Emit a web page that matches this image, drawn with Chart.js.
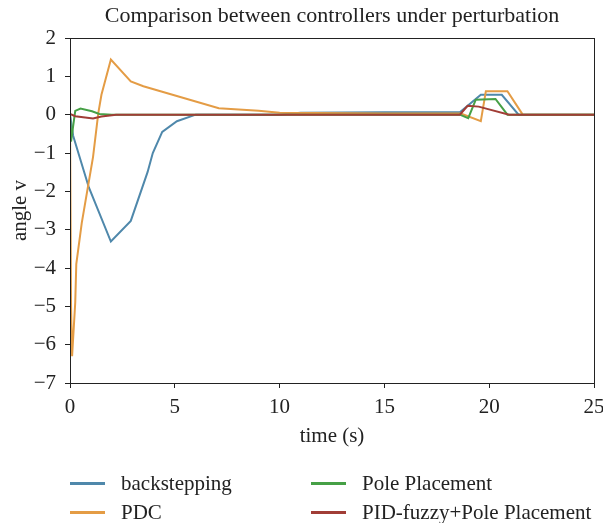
<!DOCTYPE html>
<html>
<head>
<meta charset="utf-8">
<script src="https://cdn.jsdelivr.net/npm/chart.js@4.4.0/dist/chart.umd.min.js"></script>
<style>
  body { margin: 0; background: #fff; }
  #wrap { position: relative; width: 603px; height: 523px; }
  #legend { position: absolute; left: 0; top: 0; width: 603px; height: 523px; pointer-events: none;
            font-family: "Liberation Serif", serif; font-size: 21px; color: #222; }
  .item { position: absolute; height: 24px; line-height: 24px; white-space: nowrap; }
  .swatch { position: absolute; top: 11px; height: 3px; width: 35px; }
  .txt { position: absolute; left: 51px; top: 0; }
</style>
</head>
<body>
<div id="wrap">
  <canvas id="chart" width="603" height="523"></canvas>
  <div id="legend"></div>
</div>
<script>
// tick labels
const xTicks = [0, 5, 10, 15, 20, 25];
const yTicks = [2, 1, 0, -1, -2, -3, -4, -5, -6, -7];

// backstepping
const backT = [0, 0.15, 0.9, 1.95, 2.9, 3.7, 3.95, 4.4, 5.1, 6.0, 10, 11, 15, 18.6, 19.6, 20.6, 21.4, 25];
const backV = [0, -0.55, -1.9, -3.31, -2.77, -1.5, -1.0, -0.45, -0.17, 0, 0, 0.05, 0.06, 0.06, 0.52, 0.52, 0, 0];

// PDC
const pdcT = [0, 0.05, 0.1, 0.25, 0.3, 0.56, 1.1, 1.35, 1.5, 1.95, 2.9, 3.5, 7.1, 9.0, 10, 15, 18.65, 19.6, 19.84, 20.87, 21.6, 25];
const pdcV = [0, -5.0, -6.3, -4.9, -3.9, -2.83, -1.1, 0.04, 0.52, 1.44, 0.87, 0.74, 0.17, 0.1, 0.05, 0.03, 0.03, -0.17, 0.61, 0.61, 0, 0];

// Pole Placement
const poleT = [0, 0.05, 0.15, 0.25, 0.5, 1.05, 1.4, 2, 18.6, 19.0, 19.36, 20.3, 20.87, 25];
const poleV = [0, -0.7, -0.3, 0.1, 0.16, 0.09, 0.02, 0, 0, -0.09, 0.39, 0.41, 0, 0];

// PID-fuzzy+Pole Placement
const pidT = [0, 0.25, 1.1, 1.5, 2.2, 18.6, 18.97, 19.5, 20.95, 25];
const pidV = [0.02, -0.04, -0.1, -0.05, 0, 0, 0.23, 0.21, 0, 0];

const names = ['backstepping', 'PDC', 'Pole Placement', 'PID-fuzzy+Pole Placement'];
const colors = ['#4f88ab', '#e49c45', '#46a046', '#a13d36'];
const titleText = 'Comparison between controllers under perturbation';

const pts = (t, v) => t.map((x, i) => ({ x: x, y: v[i] }));
const series = [pts(backT, backV), pts(pdcT, pdcV), pts(poleT, poleV), pts(pidT, pidV)];

const serif = '"Liberation Serif", serif';

// frame round the plot + title centred on the plot area
const boxPlugin = {
    id: 'box',
    afterDraw(chart) {
        const a = chart.chartArea;
        const ctx = chart.ctx;
        ctx.save();
        ctx.strokeStyle = '#222';
        ctx.lineWidth = 1;
        ctx.strokeRect(a.left + 0.5, a.top + 0.5, a.right - a.left, a.bottom - a.top);
        ctx.fillStyle = '#222';
        ctx.font = '22px ' + serif;
        ctx.textAlign = 'center';
        ctx.textBaseline = 'middle';
        ctx.fillText(titleText, (a.left + a.right) / 2, 16);
        ctx.restore();
    }
};

const ctx = document.getElementById('chart').getContext('2d');
const chart = new Chart(ctx, {
    type: 'line',
    data: {
        datasets: series.map((d, i) => ({
            label: names[i],
            data: d,
            borderColor: colors[i],
            backgroundColor: colors[i],
            borderWidth: 2,
            pointRadius: 0,
            tension: 0,
            fill: false,
            order: 3 - i   // matplotlib order: last series on top
        }))
    },
    options: {
        responsive: false,
        animation: false,
        layout: { padding: { left: 0, right: 9, top: 38, bottom: 70 } },
        plugins: {
            legend: { display: false },
            tooltip: { enabled: false },
            title: { display: false }
        },
        scales: {
            x: {
                type: 'linear',
                min: 0,
                max: 25,
                afterBuildTicks: s => { s.ticks = xTicks.map(v => ({ value: v })); },
                afterFit: s => { s.height = 70; s.paddingLeft = 0; s.paddingRight = 0; },
                ticks: { color: '#222', font: { family: serif, size: 21 }, padding: 7, maxRotation: 0 },
                grid: { drawOnChartArea: false, drawTicks: true, tickLength: 5, color: '#222' },
                border: { color: '#222' },
                title: {
                    display: true, text: 'time (s)', color: '#222',
                    font: { family: serif, size: 21 }, padding: { top: 0, bottom: 4 }
                }
            },
            y: {
                type: 'linear',
                min: -7,
                max: 2,
                afterBuildTicks: s => { s.ticks = yTicks.map(v => ({ value: v })); },
                afterFit: s => { s.width = 70; s.paddingTop = 0; s.paddingBottom = 0; },
                ticks: {
                    color: '#222', font: { family: serif, size: 21 }, padding: 9,
                    callback: v => String(v).replace('-', '\u2212')
                },
                grid: { drawOnChartArea: false, drawTicks: true, tickLength: 5, color: '#222' },
                border: { color: '#222' },
                title: {
                    display: true, text: 'angle v', color: '#222',
                    font: { family: serif, size: 21 }, padding: { top: 8, bottom: 0 }
                }
            }
        }
    },
    plugins: [boxPlugin]
});

// legend in two columns under the plot
const legendPos = [[70, 471], [70, 500], [311, 471], [311, 500]];
const legend = document.getElementById('legend');
names.forEach((n, i) => {
    const item = document.createElement('div');
    item.className = 'item';
    item.style.left = legendPos[i][0] + 'px';
    item.style.top = legendPos[i][1] + 'px';
    item.innerHTML = '<div class="swatch" style="background:' + colors[i] + '"></div><span class="txt">' + n + '</span>';
    legend.appendChild(item);
});
</script>
</body>
</html>
